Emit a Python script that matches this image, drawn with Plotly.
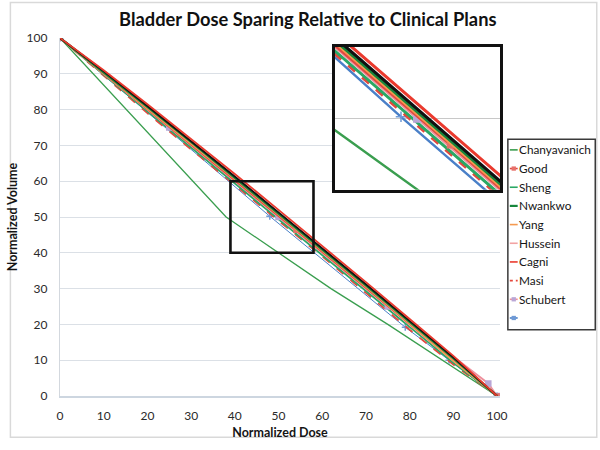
import plotly.graph_objects as go

# ---------------- data ----------------
dose = [0, 10, 20, 30, 40, 50, 60, 70, 80, 90, 100]

chan_dose = [0, 38, 62, 75, 100]
chan_vol = [100, 50, 30, 20, 0]

good_dose = [0, 54, 100]
good_vol = [100, 46.3, 0]

cagni_vol = [100, 91, 81.5, 71.8, 62, 52, 42, 31.8, 21.5, 11.2, 0]
clinical_vol = [100, 90.7, 81, 71.2, 61.3, 51.3, 41.3, 31.2, 21, 10.8, 0]
nwankwo_vol = [100, 90.5, 80.8, 71, 61, 51, 41, 30.9, 20.7, 10.6, 0]
yang_vol = [100, 90.2, 80.4, 70.6, 60.6, 50.6, 40.6, 30.5, 20.2, 9.8, 0]
hussein_vol = [100, 90, 80.1, 70.3, 60.3, 50.3, 40.3, 30.2, 19.9, 9.8, 0]
sheng_vol = [100, 89.7, 79.5, 69.4, 59.4, 49.4, 39.4, 29.3, 19.2, 9.3, 0]
masi_vol = [100, 89.4, 79, 68.9, 59, 49, 39, 28.8, 18.5, 8.8, 0]

schubert_dose = [0, 25, 50, 75, 98, 100]
schubert_vol = [100, 75, 50, 25, 3.5, 0]

blank_dose = [0, 48, 79, 89, 100]
blank_vol = [100, 50.2, 19.2, 10, 0]

legend_names = ["Chanyavanich", "Good", "Sheng", "Nwankwo", "Yang",
                "Hussein", "Cagni", "Masi", "Schubert", " "]

x_ticks = [0, 10, 20, 30, 40, 50, 60, 70, 80, 90, 100]
y_ticks = [0, 10, 20, 30, 40, 50, 60, 70, 80, 90, 100]

# ---------------- styles ----------------
series = [
    # name, x, y, color, width, dash, marker symbol, marker color, marker size
    ("Chanyavanich", chan_dose, chan_vol, "#3a9e4f", 1.3, "solid", None, None, 0),
    ("Good", good_dose, good_vol, "#e2473f", 1.8, "solid", "square", "#e7706a", 4),
    ("Sheng", dose, sheng_vol, "#2aa865", 1.8, "solid", None, None, 0),
    ("Nwankwo", dose, nwankwo_vol, "#17873c", 2.4, "solid", None, None, 0),
    ("Yang", dose, yang_vol, "#f59a50", 1.8, "solid", None, None, 0),
    ("Hussein", dose, hussein_vol, "#f2a3a3", 1.8, "solid", None, None, 0),
    ("Cagni", dose, cagni_vol, "#ea3a2e", 1.8, "solid", None, None, 0),
    ("Masi", dose, masi_vol, "#e5473c", 1.8, "dash", None, None, 0),
    ("Schubert", schubert_dose, schubert_vol, "#ee8f9c", 1.8, "solid", "square", "#b9a6d6", 5),
    (" ", blank_dose, blank_vol, "#4a80c8", 1.0, "solid", "cross-thin", "#6f9ad6", 5),
    ("Clinical", dose, clinical_vol, "#111111", 1.8, "solid", None, None, 0),
]

FONT = "Lato, Arial, sans-serif"
W, H = 600, 450
ML, MR, MT, MB = 52, 100, 38, 44
PW = W - ML - MR
PH = H - MT - MB
x_max = 100 * PW / 445.0  # x=100 sits 3px left of the plot edge


def px_x(p):
    return (p - ML) / PW


def px_y(q):
    return (H - MB - q) / PH


fig = go.Figure()

order = [0, 9, 7, 2, 8, 5, 1, 4, 3, 10, 6]
for axes, scale in ((("x", "y"), 1.0), (("x2", "y2"), 1.7)):
    for i in order:
        name, xs, ys, col, w, dash, sym, mcol, msz = series[i]
        mode = "lines+markers" if sym else "lines"
        mk = dict(size=msz * (1.5 if scale > 1 else 1))
        if sym:
            mk.update(symbol=sym, color=mcol, line=dict(width=1.5, color=mcol))
        fig.add_trace(go.Scatter(
            x=xs, y=ys, name=name, mode=mode, showlegend=False,
            line=dict(color=col, width=max(2.4, w * scale) if scale > 1 else w, dash=dash),
            marker=mk, xaxis=axes[0], yaxis=axes[1], hoverinfo="skip"))

shapes = []
annotations = []

# box marking the zoomed area on the main chart
shapes.append(dict(type="rect", xref="x", yref="y", x0=39, x1=58, y0=40, y1=60,
                   line=dict(color="#111111", width=2.6), layer="above"))

# outer chart border
shapes.append(dict(type="rect", xref="paper", yref="paper",
                   x0=px_x(1.5), x1=px_x(598.5), y0=px_y(448.5), y1=px_y(1.5),
                   line=dict(color="#d9d9d9", width=1.5), layer="below"))

# legend drawn to match the compact reference box
LEG_L, LEG_R, LEG_T, LEG_B = 508, 597, 142, 338
shapes.append(dict(type="rect", xref="paper", yref="paper",
                   x0=px_x(LEG_L), x1=px_x(LEG_R), y0=px_y(LEG_B), y1=px_y(LEG_T),
                   line=dict(color="#3a3a3a", width=1.5), fillcolor="white", layer="above"))
leg_map = {s[0]: s for s in series}
for k, nm in enumerate(legend_names):
    name, xs, ys, col, w, dash, sym, mcol, msz = leg_map[nm]
    yc = 153 + 19.2 * k
    shapes.append(dict(type="line", xref="paper", yref="paper",
                       x0=px_x(510), x1=px_x(518), y0=px_y(yc), y1=px_y(yc),
                       line=dict(color=col, width=1.6 if w < 2 else 2.2,
                                 dash="dot" if dash == "dash" else "solid"),
                       layer="above"))
    if sym:
        shapes.append(dict(type="rect", xref="paper", yref="paper",
                           x0=px_x(511.8), x1=px_x(516.2), y0=px_y(yc + 2.2), y1=px_y(yc - 2.2),
                           line=dict(width=0), fillcolor=mcol, layer="above"))
    annotations.append(dict(text=nm, xref="paper", yref="paper",
                            x=px_x(519), y=px_y(yc), xanchor="left", yanchor="middle",
                            showarrow=False, borderpad=0, borderwidth=0,
                            font=dict(family=FONT, size=11.8, color="#151515")))

fig.update_layout(
    width=W, height=H,
    margin=dict(l=ML, r=MR, t=MT, b=MB),
    paper_bgcolor="white", plot_bgcolor="white",
    font=dict(family=FONT, size=12, color="#2a2a2a"),
    title=dict(text="<b>Bladder Dose Sparing Relative to Clinical Plans</b>",
               x=0.513, xref="container", xanchor="center",
               y=1 - 20 / H, yref="container", yanchor="middle",
               font=dict(family=FONT, size=18.3, color="#111111")),
    showlegend=False,
    xaxis=dict(domain=[0, 1], range=[0, x_max], tickvals=x_ticks,
               showgrid=False, zeroline=False, showline=True,
               linecolor="#cdd6e0", linewidth=1.5, ticks="",
               ticklabelstandoff=8,
               tickfont=dict(family=FONT, size=12, color="#2a2a2a"),
               title=dict(text="<b>Normalized Dose</b>", standoff=6,
                          font=dict(family=FONT, size=12.5, color="#151515"))),
    yaxis=dict(domain=[0, 1], range=[0, 100], tickvals=y_ticks,
               showgrid=True, gridcolor="#dbe0e6", gridwidth=1,
               zeroline=False, showline=True, linecolor="#d3d8de", linewidth=1.2,
               ticks="", ticklabelstandoff=9,
               tickfont=dict(family=FONT, size=12, color="#2a2a2a"),
               title=dict(text="<b>Normalized Volume</b>", standoff=6,
                          font=dict(family=FONT, size=12.5, color="#151515"))),
    xaxis2=dict(domain=[px_x(332), px_x(500)], range=[40, 60], anchor="y2",
                showgrid=False, zeroline=False, showticklabels=False, ticks="",
                showline=True, mirror=True, linecolor="#111111", linewidth=3),
    yaxis2=dict(domain=[px_y(194), px_y(47)], range=[40, 60], anchor="x2",
                showgrid=True, gridcolor="#c8c8c8", gridwidth=1, dtick=10,
                zeroline=False, showticklabels=False, ticks="",
                showline=True, mirror=True, linecolor="#111111", linewidth=3),
    shapes=shapes,
    annotations=annotations,
)

fig.write_html("out.html",
               config={"displayModeBar": False},
               post_script="document.body.style.margin='0px';document.body.style.padding='0px';")
